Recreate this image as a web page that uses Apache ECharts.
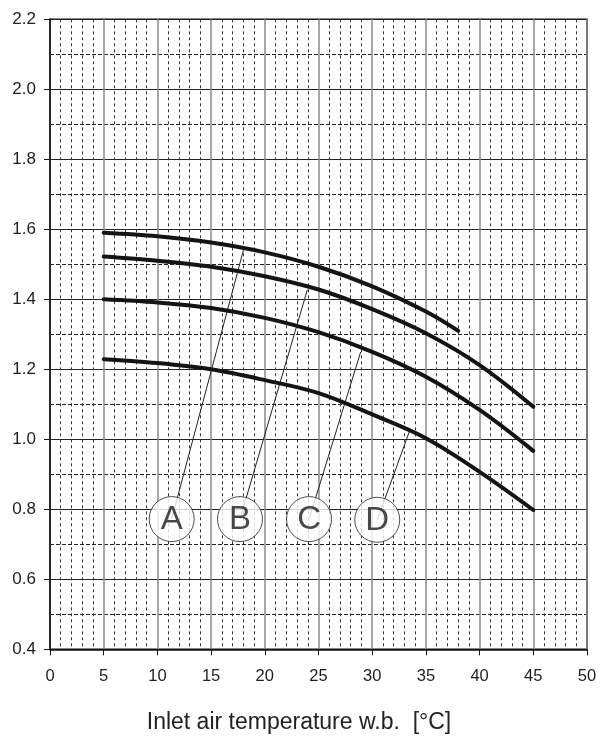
<!DOCTYPE html>
<html>
<head>
<meta charset="utf-8">
<style>
  html, body { margin: 0; padding: 0; background: #fff; }
  #chart { width: 601px; height: 736px; }
</style>
<script src="https://cdn.jsdelivr.net/npm/echarts@6/dist/echarts.min.js"></script>
</head>
<body>
<div id="chart"></div>
<script>
// Correction factor curves vs inlet air wet-bulb temperature
const curveA = [[5, 1.59], [10, 1.58], [15, 1.562], [20, 1.534], [25, 1.493], [30, 1.437], [35, 1.365], [38, 1.31]];
const curveB = [[5, 1.522], [10, 1.51], [15, 1.493], [20, 1.466], [25, 1.428], [30, 1.372], [35, 1.303], [40, 1.212], [45, 1.093]];
const curveC = [[5, 1.40], [10, 1.391], [15, 1.375], [20, 1.347], [25, 1.306], [30, 1.25], [35, 1.179], [40, 1.084], [45, 0.967]];
const curveD = [[5, 1.229], [10, 1.218], [15, 1.20], [20, 1.169], [25, 1.132], [30, 1.071], [35, 1.003], [40, 0.907], [45, 0.798]];

// Curve tags: name, tag position, point on the curve the leader reaches
const tagNames = ['A', 'B', 'C', 'D'];
const tagPositions = [[11.33, 0.772], [17.69, 0.772], [24.12, 0.772], [30.47, 0.770]];
const leaderEnds = [[18.06, 1.546], [23.96, 1.427], [28.93, 1.25], [33.46, 1.022]];

const xTicks = { min: 0, max: 50, interval: 5 };
const yTicks = { min: 0.4, max: 2.2, interval: 0.2 };
const xTitle = 'Inlet air temperature w.b.  [°C]';

const chart = echarts.init(document.getElementById('chart'), null, { renderer: 'canvas' });

const font = 'Liberation Sans, Arial, Helvetica, sans-serif';

const curveSeries = [curveA, curveB, curveC, curveD].map((d, i) => ({
  type: 'line',
  name: tagNames[i],
  data: d,
  smooth: 0.35,
  showSymbol: false,
  lineStyle: { color: '#141414', width: 4, cap: 'round' },
  z: 5,
  silent: true
}));

const leaderSeries = tagNames.map((n, i) => ({
  type: 'line',
  data: [tagPositions[i], leaderEnds[i]],
  showSymbol: false,
  lineStyle: { color: '#222', width: 1 },
  z: 4,
  silent: true
}));

const tagSeries = {
  type: 'scatter',
  data: tagPositions.map((p, i) => ({ value: p, name: tagNames[i] })),
  symbol: 'circle',
  symbolSize: 45,
  itemStyle: { color: '#fff', borderColor: '#222', borderWidth: 1 },
  label: {
    show: true,
    position: 'inside',
    formatter: p => p.name,
    color: '#1a1a1a',
    fontFamily: font,
    fontSize: 33,
    offset: [0, 1]
  },
  z: 6,
  silent: true
};

chart.setOption({
  animation: false,
  backgroundColor: '#fff',
  grid: {
    left: 50, right: 14, top: 19.3, bottom: 86.7,
    outerBoundsMode: 'none',
    containLabel: false,
    show: true, borderColor: '#111', borderWidth: 1.5, backgroundColor: 'transparent'
  },
  xAxis: {
    type: 'value',
    min: xTicks.min, max: xTicks.max, interval: xTicks.interval,
    name: xTitle,
    nameLocation: 'middle',
    nameGap: 62,
    nameTextStyle: { fontFamily: font, fontSize: 23, color: '#222', padding: [0, 39, 0, 0] },
    axisLine: { show: true, lineStyle: { color: '#111', width: 1.5 } },
    axisTick: { show: true, length: 6, lineStyle: { color: '#111', width: 1 } },
    axisLabel: { fontFamily: font, fontSize: 16.5, color: '#1e1e1e', margin: 19 },
    splitLine: { show: true, lineStyle: { color: '#8a8a8a', width: 1.5 } },
    minorTick: { show: false, splitNumber: 5 },
    minorSplitLine: { show: true, lineStyle: { color: '#333', width: 1, type: [3, 3] } }
  },
  yAxis: {
    type: 'value',
    min: yTicks.min, max: yTicks.max, interval: yTicks.interval,
    axisLine: { show: true, lineStyle: { color: '#111', width: 1.5 } },
    axisTick: { show: true, length: 6, lineStyle: { color: '#111', width: 1 } },
    axisLabel: {
      fontFamily: font, fontSize: 17, color: '#1e1e1e', margin: 14,
      formatter: v => v.toFixed(1)
    },
    splitLine: { show: true, lineStyle: { color: '#222', width: 1 } },
    minorTick: { show: false, splitNumber: 2 },
    minorSplitLine: { show: true, lineStyle: { color: '#222', width: 1, type: [4, 2] } }
  },
  series: [...leaderSeries, ...curveSeries, tagSeries]
});
</script>
</body>
</html>
